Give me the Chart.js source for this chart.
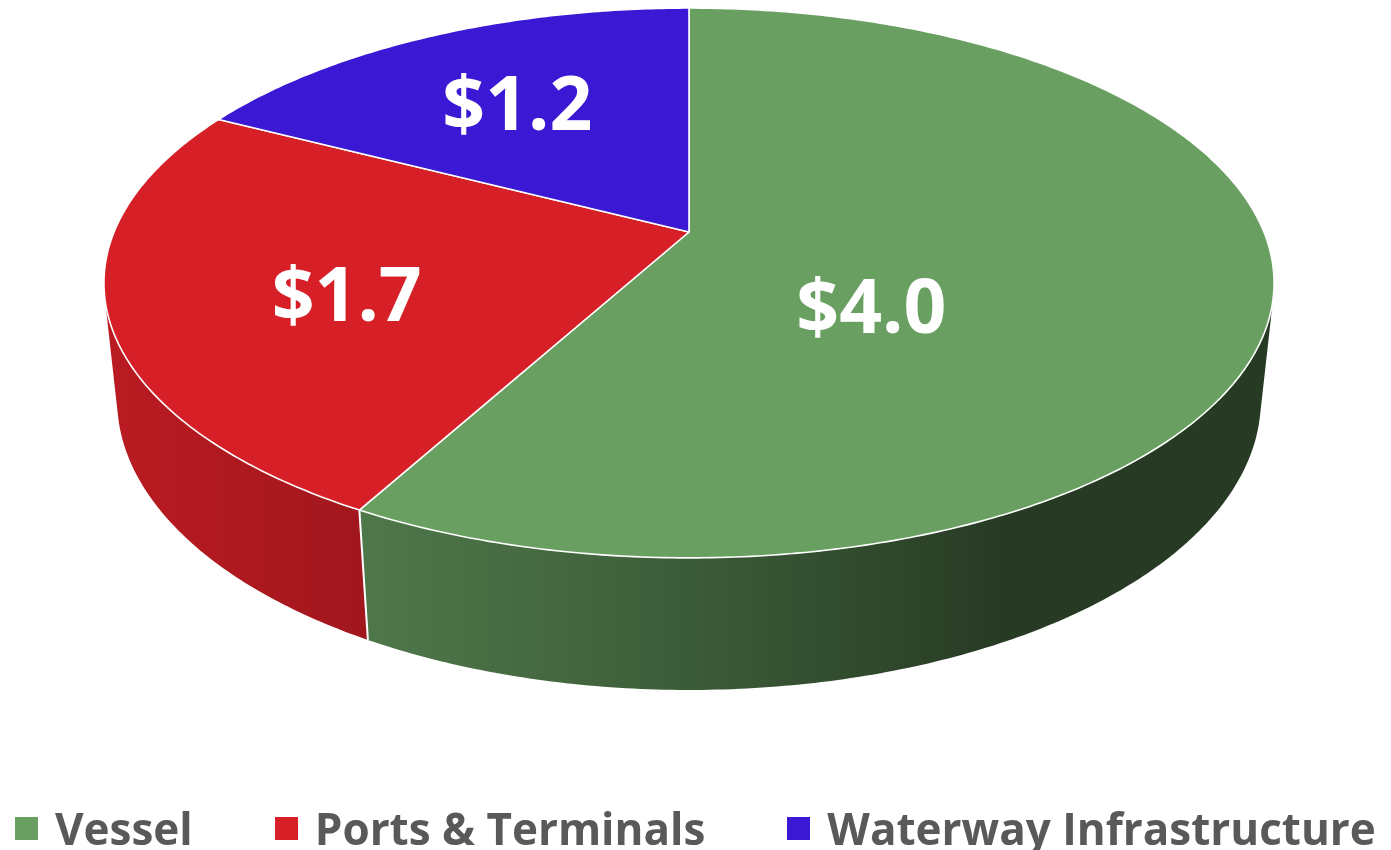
<!DOCTYPE html>
<html>
<head>
<meta charset="utf-8">
<script src="https://cdn.jsdelivr.net/npm/chart.js@4.4.1/dist/chart.umd.min.js"></script>
<style>
    html, body { margin: 0; padding: 0; background: #ffffff; }
    body { width: 1391px; height: 850px; overflow: hidden; position: relative; }
    #wrap { position: absolute; left: 0; top: 0; width: 1391px; height: 850px; }
    #legend {
        position: absolute; left: 15px; top: 806px; height: 44px;
        display: flex; align-items: center; white-space: nowrap;
        font-family: 'Open Sans', sans-serif; font-weight: 700; font-size: 44px;
        line-height: 44px; color: #595959;
    }
    #legend .item { display: flex; align-items: center; margin-right: 82px; }
    #legend .item:last-child { margin-right: 0; }
    #legend .box { width: 23px; height: 23px; margin-right: 17px; }
</style>
</head>
<body>
<div id="wrap"><canvas id="pie-chart"></canvas></div>
<div id="legend"></div>

<script>
// data
const categories = ['Vessel', 'Ports & Terminals', 'Waterway Infrastructure'];
const values     = [4.0, 1.7, 1.2];

// styles
const sliceColors = ['#69A062', '#D71F27', '#3A18D4'];

// 3D view: tilt in degrees, camera distance and depth in radius units
const VIEW = { tilt: 27.5, dist: 4.785, focal: 2751, depth: 0.231, originY: 232 };

function hexToRgb(hex) {
    const n = parseInt(hex.slice(1), 16);
    return [(n >> 16) & 255, (n >> 8) & 255, n & 255];
}

function shade(hex, f) {
    const c = hexToRgb(hex).map(v => Math.round(v * f));
    return 'rgb(' + c.join(',') + ')';
}

// project a point of the disc (canvas angle a, radius fraction rho) at level 0 (top) or 1 (bottom)
function project(cx, a, rho, level) {
    const phi = VIEW.tilt * Math.PI / 180;
    const s = Math.sin(phi), c = Math.cos(phi), L = VIEW.dist;
    const X = rho * Math.cos(a);
    const Z = -rho * Math.sin(a);
    const Y = -level * VIEW.depth;
    const zc = -(Y - L * s) * s + (Z + L * c) * c;
    const yc = (Y - L * s) * c + (Z + L * c) * s;
    return { x: cx + VIEW.focal * X / zc, y: VIEW.originY - VIEW.focal * yc / zc };
}

function rimPoints(cx, a0, a1, level) {
    const pts = [];
    const steps = Math.max(2, Math.ceil((a1 - a0) * 90));
    for (let i = 0; i <= steps; i++) {
        pts.push(project(cx, a0 + (a1 - a0) * i / steps, 1, level));
    }
    return pts;
}

function centroid(poly) {
    let A = 0, x = 0, y = 0;
    for (let i = 0; i < poly.length; i++) {
        const p = poly[i], q = poly[(i + 1) % poly.length];
        const cr = p.x * q.y - q.x * p.y;
        A += cr; x += (p.x + q.x) * cr; y += (p.y + q.y) * cr;
    }
    return { x: x / (3 * A), y: y / (3 * A) };
}

const pie3d = {
    id: 'pie3d',
    beforeDatasetsDraw(chart) {
        const ctx = chart.ctx;
        const arcs = chart.getDatasetMeta(0).data;
        const cx = arcs[0].x;
        const phi = VIEW.tilt * Math.PI / 180;
        const limit = Math.asin(1 / (VIEW.dist * Math.cos(phi)));
        const vis0 = limit, vis1 = Math.PI - limit;

        // side walls
        const left = cx - 585, right = cx + 585;
        arcs.forEach((arc, i) => {
            const s = Math.max(arc.startAngle, vis0);
            const e = Math.min(arc.endAngle, vis1);
            if (s >= e) return;
            const top = rimPoints(cx, s, e, 0);
            const bot = rimPoints(cx, s, e, 1).reverse();
            const g = ctx.createLinearGradient(left, 0, right, 0);
            g.addColorStop(0, shade(sliceColors[i], 0.87));
            g.addColorStop(0.22, shade(sliceColors[i], 0.75));
            g.addColorStop(0.46, shade(sliceColors[i], 0.6));
            g.addColorStop(0.77, shade(sliceColors[i], 0.37));
            g.addColorStop(1, shade(sliceColors[i], 0.37));
            ctx.beginPath();
            top.concat(bot).forEach((p, k) => k ? ctx.lineTo(p.x, p.y) : ctx.moveTo(p.x, p.y));
            ctx.closePath();
            ctx.fillStyle = g;
            ctx.fill();
        });

        // white seams on the wall
        arcs.forEach(arc => {
            const a = arc.startAngle;
            if (a <= vis0 || a >= vis1) return;
            const p = project(cx, a, 1, 0), q = project(cx, a, 1, 1);
            ctx.beginPath();
            ctx.moveTo(p.x, p.y);
            ctx.lineTo(q.x, q.y);
            ctx.strokeStyle = '#ffffff';
            ctx.lineWidth = 2;
            ctx.stroke();
        });

        // top faces
        const labelPos = [];
        arcs.forEach((arc, i) => {
            const poly = [project(cx, 0, 0, 0)].concat(rimPoints(cx, arc.startAngle, arc.endAngle, 0));
            ctx.beginPath();
            poly.forEach((p, k) => k ? ctx.lineTo(p.x, p.y) : ctx.moveTo(p.x, p.y));
            ctx.closePath();
            ctx.fillStyle = sliceColors[i];
            ctx.fill();
            ctx.strokeStyle = '#ffffff';
            ctx.lineWidth = 1.6;
            ctx.lineJoin = 'round';
            ctx.stroke();
            labelPos.push(centroid(poly));
        });

        // value labels
        ctx.save();
        ctx.font = 'bold 75px "Open Sans", sans-serif';
        ctx.fillStyle = '#ffffff';
        ctx.textAlign = 'center';
        ctx.textBaseline = 'middle';
        labelPos.forEach((p, i) => {
            ctx.fillText('$' + values[i].toFixed(1), p.x, p.y);
        });
        ctx.restore();
        return false;
    }
};

new Chart(document.getElementById('pie-chart'), {
    type: 'pie',
    data: {
        labels: categories,
        datasets: [{
            data: values,
            backgroundColor: sliceColors,
            borderColor: '#ffffff',
            borderWidth: 2
        }]
    },
    options: {
        animation: false,
        responsive: true,
        maintainAspectRatio: false,
        layout: { padding: { right: 13 } },
        plugins: { legend: { display: false }, tooltip: { enabled: false } }
    },
    plugins: [pie3d]
});

// legend
const legendEl = document.getElementById('legend');
categories.forEach((name, i) => {
    const item = document.createElement('div');
    item.className = 'item';
    const box = document.createElement('span');
    box.className = 'box';
    box.style.background = sliceColors[i];
    const txt = document.createElement('span');
    txt.textContent = name;
    item.appendChild(box);
    item.appendChild(txt);
    legendEl.appendChild(item);
});
</script>
</body>
</html>
